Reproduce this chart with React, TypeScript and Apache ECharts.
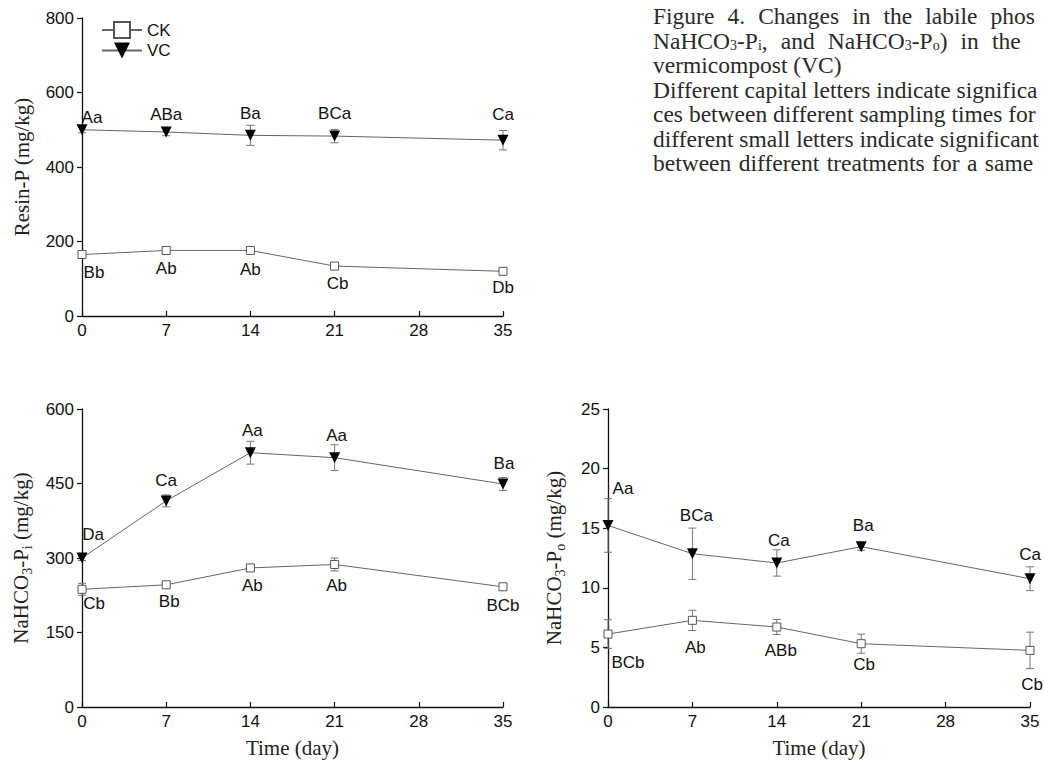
import React, { useEffect, useRef } from 'react';
import * as echarts from 'echarts';

// ---------- data ----------
const days = [0, 7, 14, 21, 35];

const resinCK = [165, 176, 176, 134, 120];
const resinCKErr = [5, 6, 5, 5, 5];
const resinVC = [500, 494, 485, 483, 472];
const resinVCErr = [8, 10, 27, 18, 26];
const resinCKLetters = ['Bb', 'Ab', 'Ab', 'Cb', 'Db'];
const resinVCLetters = ['Aa', 'ABa', 'Ba', 'BCa', 'Ca'];

const piCK = [237, 246, 280, 287, 242];
const piCKErr = [12, 5, 5, 13, 4];
const piVC = [300, 415, 512, 502, 449];
const piVCErr = [5, 12, 23, 26, 13];
const piCKLetters = ['Cb', 'Bb', 'Ab', 'Ab', 'BCb'];
const piVCLetters = ['Da', 'Ca', 'Aa', 'Aa', 'Ba'];

const poCK = [6.12, 7.27, 6.71, 5.31, 4.75];
const poCKErr = [1.2, 0.85, 0.63, 0.8, 1.53];
const poVC = [15.23, 12.86, 12.08, 13.45, 10.76];
const poVCErr = [2.25, 2.15, 1.1, 0.3, 1.0];
const poCKLetters = ['BCb', 'Ab', 'ABb', 'Cb', 'Cb'];
const poVCLetters = ['Aa', 'BCa', 'Ca', 'Ba', 'Ca'];

// caption lines ({g| } = justified word space, {s|..} = subscript)
const captionLines = [
  'Figure{g| }4.{g| }Changes{g| }in{g| }the{g| }labile{g| }phos',
  'NaHCO{s|3}-P{s|i},{g| }and{g| }NaHCO{s|3}-P{s|o}){g| }in{g| }the',
  'vermicompost (VC)',
  'Different capital letters indicate significa',
  'ces between different sampling times for',
  'different small letters indicate significant',
  'between{h| }different{h| }treatments{h| }for{h| }a{h| }same',
];

// ---------- layout (label offsets relative to the marker centre) ----------
const resinCKOff = [[12, 18], [0, 18], [0, 19], [3, 17], [0, 16]];
const resinVCOff = [[10, -12], [0, -17], [0, -22], [0, -23], [0, -26]];
const piCKOff = [[12, 14], [3, 17], [2, 18], [2, 21], [0, 19]];
const piVCOff = [[11, -24], [0, -20], [2, -22], [2, -22], [1, -20]];
const poCKOff = [[20, 28], [3, 27], [4, 23], [3, 21], [2, 34]];
const poVCOff = [[15, -37], [4, -38], [2, -23], [2, -21], [0, -24]];

const SANS = 'Liberation Sans';
const SERIF = 'Liberation Serif';
const INK = '#111';
const LINE = '#666';
const ERR = '#777';
const CAP = '#2a2a2a';

function lineSeries(name: string, idx: number, vals: number[], letters: string[], offs: number[][], isVC: boolean) {
  return {
    type: 'line',
    name,
    xAxisIndex: idx,
    yAxisIndex: idx,
    z: 3,
    symbol: isVC ? 'triangle' : 'rect',
    symbolRotate: isVC ? 180 : 0,
    symbolSize: isVC ? 11 : 8,
    lineStyle: { color: LINE, width: 1 },
    itemStyle: isVC
      ? { color: '#000', borderColor: '#000', borderWidth: 0 }
      : { color: '#fff', borderColor: '#555', borderWidth: 1 },
    label: {
      show: true,
      position: 'inside',
      formatter: '{b}',
      color: INK,
      fontSize: 17,
      fontFamily: SANS,
    },
    data: days.map((d, i) => ({
      name: letters[i],
      value: [d, vals[i]],
      label: { offset: offs[i] },
    })),
  };
}

function errSeries(idx: number, vals: number[], errs: number[]) {
  return {
    type: 'custom',
    xAxisIndex: idx,
    yAxisIndex: idx,
    z: 1,
    silent: true,
    clip: false,
    encode: { x: 0, y: 1 },
    data: days.map((d, i) => [d, vals[i], errs[i]]),
    renderItem: (params: any, api: any) => {
      const x = api.value(0);
      const y = api.value(1);
      const e = api.value(2);
      const t = api.coord([x, y + e]);
      const b = api.coord([x, y - e]);
      const hw = 4;
      const st = { stroke: ERR, lineWidth: 1 };
      return {
        type: 'group',
        children: [
          { type: 'line', shape: { x1: t[0], y1: t[1], x2: b[0], y2: b[1] }, style: st },
          { type: 'line', shape: { x1: t[0] - hw, y1: t[1], x2: t[0] + hw, y2: t[1] }, style: st },
          { type: 'line', shape: { x1: b[0] - hw, y1: b[1], x2: b[0] + hw, y2: b[1] }, style: st },
        ],
      };
    },
  };
}

function xAxis(idx: number, withName: boolean) {
  return {
    type: 'value',
    gridIndex: idx,
    min: 0,
    max: 35,
    interval: 7,
    name: withName ? 'Time (day)' : '',
    nameLocation: 'middle',
    nameGap: 30,
    nameTextStyle: { fontFamily: SERIF, fontSize: 21, color: '#222' },
    axisLine: { show: true, onZero: false, lineStyle: { color: INK, width: 1.3 } },
    axisTick: { show: true, inside: true, length: 5, lineStyle: { color: INK, width: 1.2 } },
    axisLabel: { color: INK, fontSize: 17, fontFamily: SANS, margin: 6 },
    splitLine: { show: false },
  };
}

function yAxis(idx: number, max: number, interval: number, name: string, nameGap: number) {
  return {
    type: 'value',
    gridIndex: idx,
    min: 0,
    max,
    interval,
    name,
    nameLocation: 'middle',
    nameGap,
    nameTextStyle: {
      fontFamily: SERIF,
      fontSize: 21,
      color: '#222',
      rich: { s: { fontFamily: SERIF, fontSize: 14, color: '#222', padding: [13, 0, 0, 0] } },
    },
    axisLine: { show: true, lineStyle: { color: INK, width: 1.3 } },
    axisTick: { show: true, inside: false, length: 5, lineStyle: { color: INK, width: 1.2 } },
    axisLabel: { color: INK, fontSize: 17, fontFamily: SANS, margin: 8 },
    splitLine: { show: false },
  };
}

export default function App() {
  const ref = useRef<HTMLDivElement>(null);
  useEffect(() => {
    if (!ref.current) return;
    const chart = echarts.init(ref.current, null, { renderer: 'svg' });
    const captionTop = 16;
    const captionStep = 24.5;
    const option: any = {
      animation: false,
      backgroundColor: '#fff',
      grid: [
        { left: 82, top: 18, width: 421, height: 298 },
        { left: 82, top: 409, width: 421, height: 298 },
        { left: 608, top: 409, width: 422, height: 298 },
      ],
      xAxis: [xAxis(0, false), xAxis(1, true), xAxis(2, true)],
      yAxis: [
        yAxis(0, 800, 200, 'Resin-P (mg/kg)', 50),
        yAxis(1, 600, 150, 'NaHCO{s|3}-P{s|i} (mg/kg)', 48),
        yAxis(2, 25, 5, 'NaHCO{s|3}-P{s|o} (mg/kg)', 41),
      ],
      legend: {
        orient: 'vertical',
        left: 101,
        top: 21,
        padding: 0,
        itemWidth: 40,
        itemHeight: 20,
        itemGap: 3,
        data: ['CK', 'VC'],
        textStyle: { fontSize: 17, fontFamily: SANS, color: INK },
      },
      graphic: captionLines.map((t, i) => ({
        type: 'text',
        x: 653,
        y: captionTop + i * captionStep,
        silent: true,
        style: {
          text: t,
          fill: CAP,
          fontFamily: SERIF,
          fontSize: 23.5,
          verticalAlign: 'middle',
          align: 'left',
          rich: {
            s: { fontFamily: SERIF, fontSize: 14, fill: CAP, padding: [10, 0, 0, 0] },
            g: { padding: [0, 3.6, 0, 3.6] },
            h: { padding: [0, 0.8, 0, 0.8] },
          },
        },
      })),
      series: [
        errSeries(0, resinCK, resinCKErr),
        errSeries(0, resinVC, resinVCErr),
        lineSeries('CK', 0, resinCK, resinCKLetters, resinCKOff, false),
        lineSeries('VC', 0, resinVC, resinVCLetters, resinVCOff, true),
        errSeries(1, piCK, piCKErr),
        errSeries(1, piVC, piVCErr),
        lineSeries('CK', 1, piCK, piCKLetters, piCKOff, false),
        lineSeries('VC', 1, piVC, piVCLetters, piVCOff, true),
        errSeries(2, poCK, poCKErr),
        errSeries(2, poVC, poVCErr),
        lineSeries('CK', 2, poCK, poCKLetters, poCKOff, false),
        lineSeries('VC', 2, poVC, poVCLetters, poVCOff, true),
      ],
    };
    chart.setOption(option);
    return () => chart.dispose();
  }, []);
  return (
    <div
      ref={ref}
      style={{ position: 'fixed', left: 0, top: 0, width: 1044, height: 764, background: '#fff' }}
    />
  );
}
